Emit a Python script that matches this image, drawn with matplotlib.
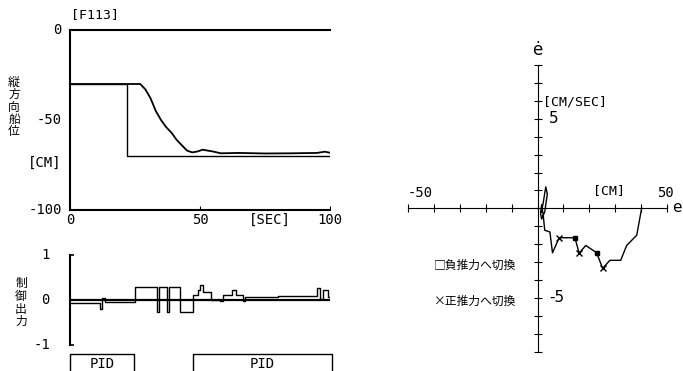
import numpy as np
import matplotlib.pyplot as plt

# 縦方向船位 (step reference and response)
ref_t = [0, 22, 22, 100]
ref_y = [-30, -30, -70, -70]
resp_t = [0, 27, 29, 31, 33, 35, 37, 39, 41, 43, 45, 47, 49, 51, 53, 55, 58, 65, 75, 85, 95, 98, 100]
resp_y = [-30, -30, -33, -38, -45, -50, -54, -57, -61, -64, -67, -68, -67.5, -66.5, -67,
          -67.5, -68.5, -68.3, -68.6, -68.5, -68.3, -67.6, -68.2]

# 制御出力 (step signal)
u_t = [0, 11.5, 12.4, 13.5, 25, 33.3, 34.4, 37.2, 38.1, 42.3, 47.2, 49.4, 50, 51.3, 54.1,
       57.7, 59, 62.4, 63.7, 66.4, 67.3, 80, 94.9, 96.2, 97.4, 99.4, 100]
u_v = [-0.07, -0.19, 0.04, -0.04, 0.30, -0.26, 0.30, -0.26, 0.30, -0.26, 0.11, 0.22, 0.33,
       0.17, 0.0, -0.02, 0.11, 0.22, 0.11, -0.02, 0.07, 0.09, 0.26, 0.02, 0.22, 0.07, 0.07]

# PID periods
pid_start = [0, 47.4]
pid_len = [24.7, 53.2]

# phase plane trajectory
e = [40.3, 38.4, 34.5, 32.2, 28.0, 25.2, 22.9, 18.7, 16.1, 14.5, 8.4, 5.8, 4.8, 2.8, 2.2,
     1.6, 1.2, 1.6, 2.8, 3.8, 3.2, 2.2, 1.5]
ed = [0, -1.5, -2.07, -2.9, -2.9, -3.35, -2.48, -2.07, -2.5, -1.64, -1.64, -2.48, -1.32,
      -1.22, -0.37, 0.2, -0.3, -0.6, -0.2, 0.8, 1.2, 0.3, -0.2]
sq_e = [22.9, 14.5]
sq_ed = [-2.48, -1.64]
x_e = [25.2, 16.1, 8.4]
x_ed = [-3.35, -2.5, -1.64]

W, H = 683, 371
mono = 'DejaVu Sans Mono'
jp = ['Noto Sans CJK JP', 'DejaVu Sans']


def box(x0, y0, x1, y1):
    return [x0 / W, 1 - y1 / H, (x1 - x0) / W, (y1 - y0) / H]


def px(x, y):
    return x / W, 1 - y / H


def vtext(x, y0, step, s):
    for i, ch in enumerate(s):
        fig.text(*px(x, y0 + i * step), ch, family=jp, fontsize=8.5, ha='center', va='center')


fig = plt.figure(figsize=(W / 100, H / 100), dpi=100)

# top left
ax1 = fig.add_axes(box(70, 30, 330, 210))
ax1.plot(ref_t, ref_y, 'k-', lw=1.0)
ax1.plot(resp_t, resp_y, 'k-', lw=1.3)
ax1.set_xlim(0, 100)
ax1.set_ylim(-100, 0)
ax1.spines['right'].set_visible(False)
for s in ['left', 'bottom', 'top']:
    ax1.spines[s].set_linewidth(1.5)
ax1.set_xticks([0, 50, 100])
ax1.set_yticks([])
ax1.tick_params(axis='x', direction='in', length=3, labelbottom=False)
for v, lab in [(0, '0'), (50, '50'), (100, '100')]:
    fig.text(*px(70 + v * 2.6, 220), lab, family=mono, fontsize=10, ha='center', va='center')
for v, lab in [(0, '0'), (-50, '-50'), (-100, '-100')]:
    fig.text(*px(62, 30 - v * 1.8), lab, family=mono, fontsize=10, ha='right', va='center')
fig.text(*px(95, 15), '[F113]', family=mono, fontsize=9.5, ha='center', va='center')
fig.text(*px(270, 220), '[SEC]', family=mono, fontsize=10, ha='center', va='center')
fig.text(*px(45, 163), '[CM]', family=mono, fontsize=10, ha='center', va='center')
vtext(14, 82, 12.5, '縦方向船位')

# bottom left
ax2 = fig.add_axes(box(70, 255, 330, 345))
ax2.step(u_t, u_v, where='post', color='k', lw=1.0)
ax2.axhline(0, color='k', lw=1.6)
ax2.set_xlim(0, 100)
ax2.set_ylim(-1, 1)
for s in ['right', 'top', 'bottom']:
    ax2.spines[s].set_visible(False)
ax2.spines['left'].set_linewidth(1.5)
ax2.set_xticks([])
ax2.set_yticks([-1, 1])
ax2.tick_params(axis='y', direction='in', length=3, width=1.2, labelleft=False)
for v, lab in [(1, '1'), (0, '0'), (-1, '-1')]:
    fig.text(*px(50, 300 - v * 45), lab, family=mono, fontsize=10, ha='right', va='center')
vtext(21, 284, 12.5, '制御出力')

# PID bar
ax3 = fig.add_axes(box(70, 353, 330, 371))
bars = ax3.broken_barh(list(zip(pid_start, pid_len)), (-1, 1.95), facecolors='none',
                       edgecolors='k', lw=1.0)
bars.set_clip_on(False)
ax3.set_xlim(0, 100)
ax3.set_ylim(0, 1)
ax3.axis('off')
for s0, ln in zip(pid_start, pid_len):
    ax3.text(s0 + ln / 2, 0.4, 'PID', family=mono, fontsize=10, ha='center', va='center')

# phase plane
ax4 = fig.add_axes(box(408.3, 65, 666.7, 351.7))
ax4.plot(e, ed, 'k-', lw=1.0)
ax4.plot(sq_e, sq_ed, 's', color='k', ms=3)
ax4.plot(x_e, x_ed, 'x', color='k', ms=4, mew=1.0)
ax4.set_xlim(-50, 50)
ax4.set_ylim(-8, 8)
for s in ['right', 'top']:
    ax4.spines[s].set_visible(False)
ax4.spines['left'].set_position('zero')
ax4.spines['bottom'].set_position('zero')
ax4.set_xticks(np.arange(-50, 51, 10))
ax4.set_yticks(np.arange(-8, 9, 1))
ax4.tick_params(direction='inout', length=6, labelbottom=False, labelleft=False)
ax4.set_facecolor('none')
fig.text(*px(537, 50), 'ė', family='DejaVu Sans', fontsize=12, ha='center', va='center')
fig.text(*px(672, 208), 'e', family='DejaVu Sans', fontsize=11, ha='left', va='center')
fig.text(*px(543, 102), '[CM/SEC]', family=mono, fontsize=9.5, ha='left', va='center')
fig.text(*px(549, 119), '5', family='DejaVu Sans', fontsize=11, ha='left', va='center')
fig.text(*px(549, 298), '-5', family='DejaVu Sans', fontsize=11, ha='left', va='center')
fig.text(*px(420, 193), '-50', family=mono, fontsize=10, ha='center', va='center')
fig.text(*px(665, 193), '50', family=mono, fontsize=10, ha='center', va='center')
fig.text(*px(609, 191), '[CM]', family=mono, fontsize=9.5, ha='center', va='center')
fig.text(*px(434, 265), '□負推力へ切換', family=jp, fontsize=8.5, ha='left', va='center')
fig.text(*px(434, 301), '×正推力へ切換', family=jp, fontsize=8.5, ha='left', va='center')

fig.savefig('out.png', dpi=100)
